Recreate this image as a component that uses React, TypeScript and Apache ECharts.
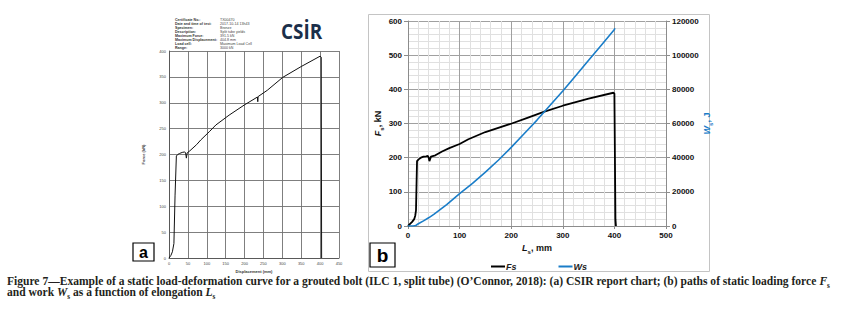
import React, { useEffect, useRef } from "react";
import * as echarts from "echarts";

// ---- Panel (a): CSIR report chart ----
const aDisp = [0, 5, 9, 13, 16, 19.5, 23, 28, 35, 41.5, 44, 46, 48, 55, 73, 84, 108, 124, 159, 200, 234, 235, 236, 260, 301, 350, 400, 403, 404];
const aForce = [0, 5, 12, 28, 120, 197, 200, 202, 204, 205, 203, 193, 203, 207, 219, 228, 245, 257, 276, 296, 311, 302, 312, 324, 349, 370, 390, 388, 0];
const aXTicks = [0, 50, 100, 150, 200, 250, 300, 350, 400, 450];
const aYTicks = [0, 50, 100, 150, 200, 250, 300, 350, 400];
const headerLabels = ["Certificate No.:", "Date and time of test:", "Specimen:", "Description:", "Maximum Force:", "Maximum Displacement:", "Load cell:", "Range:"];
const headerValues = ["TX00470", "2017-10-14 13h43", "Bronze", "Split tube yields", "391.5 kN", "404.8 mm", "Maximum Load Cell", "3000 kN"];

// ---- Panel (b): Fs and Ws vs Ls ----
const bDisp = [0, 4, 8, 12, 14, 15.5, 16.5, 17.5, 20.5, 25, 30, 35, 38.7, 40, 41.5, 43, 44.5, 53, 66, 80, 100, 117, 150, 201, 230, 263, 300, 350, 398, 400, 402, 403];
const bForce = [0, 6, 12, 20, 30, 46, 120, 190, 195, 200, 203, 204, 205, 200, 190, 196, 203, 207, 218, 228, 240, 254, 275, 300, 316, 334, 352, 373, 390, 388, 20, 0];
const wDisp = [0, 10, 15, 20, 30, 40, 50, 75, 100, 125, 150, 175, 200, 225, 250, 275, 300, 325, 350, 375, 400, 401];
const wWork = [0, 0, 300, 1300, 3000, 4800, 6800, 12500, 19000, 25000, 31500, 38500, 46000, 54000, 62000, 70500, 79000, 88000, 97000, 106000, 115000, 115800];

const caption1 = "Figure 7\u2014Example of a static load-deformation curve for a grouted bolt (ILC 1, split tube) (O\u2019Connor, 2018): (a) CSIR report chart; (b) paths of static loading force ";
const caption2a = "and work ";
const caption2b = " as a function of elongation ";

const BLUE = "#1a7dc8";

const zip = (xs: number[], ys: number[]) => xs.map((x, i) => [x, ys[i]]);

export default function App() {
  const ref = useRef<HTMLDivElement>(null);
  useEffect(() => {
    document.body.style.margin = "0";
    const chart = echarts.init(ref.current!, null, { renderer: "svg" });
    const sub = { fontSize: 7.2, fontWeight: "bold", fontFamily: "Liberation Serif", verticalAlign: "bottom", padding: [0, 0, -2, 0] };
    const capStyle = { fontSize: 11.55, fontWeight: "bold", fontFamily: "Liberation Serif", color: "#231f20" };
    const axRich = (size: number, color: string) => ({
      i: { fontStyle: "italic", fontWeight: "bold", fontSize: size, color, fontFamily: "Liberation Sans" },
      s: { fontWeight: "bold", fontSize: size - 3, color, fontFamily: "Liberation Sans", verticalAlign: "bottom", padding: [0, 0, -2, 0] },
      n: { fontWeight: "bold", fontSize: size, color, fontFamily: "Liberation Sans" },
    });
    const tinyLabel = { fontSize: 4, color: "#444", fontFamily: "Liberation Sans" };
    const bLabel = { fontSize: 8, color: "#111", fontWeight: "bold", fontFamily: "Liberation Sans" };

    const graphic: any[] = [
      { type: "rect", shape: { x: 368.5, y: 14.5, width: 341, height: 257 }, style: { fill: "none", stroke: "#c4c4c4", lineWidth: 1 }, z: 0 },
      // label boxes
      { type: "rect", shape: { x: 133, y: 243, width: 21, height: 18 }, style: { fill: "#fff", stroke: "#000", lineWidth: 1.2 }, z: 10 },
      { type: "text", x: 143.5, y: 252.5, style: { text: "a", fontSize: 16, fontWeight: "bold", fontFamily: "Liberation Sans", fill: "#000", align: "center", verticalAlign: "middle" }, z: 11 },
      { type: "rect", shape: { x: 370, y: 243, width: 25, height: 24 }, style: { fill: "#fff", stroke: "#000", lineWidth: 1.2 }, z: 10 },
      { type: "text", x: 382.5, y: 255, style: { text: "b", fontSize: 19, fontWeight: "bold", fontFamily: "Liberation Sans", fill: "#000", align: "center", verticalAlign: "middle" }, z: 11 },
      // CSIR logo
      { type: "text", x: 281, y: 31, scaleX: 0.9, style: { text: "CS\u0130R", fontSize: 21, fontWeight: 700, fontFamily: "Open Sans", fill: "#1b2f4a", verticalAlign: "middle", align: "left" }, z: 5 },
      // caption
      {
        type: "text", x: 7, y: 281,
        style: {
          text: caption1 + "{i|F}{s|s}", verticalAlign: "middle", ...capStyle, fill: "#231f20",
          rich: { i: { ...capStyle, fontStyle: "italic" }, s: sub },
        },
      },
      {
        type: "text", x: 7, y: 292,
        style: {
          text: caption2a + "{i|W}{s|s}" + caption2b + "{i|L}{s|s}", verticalAlign: "middle", ...capStyle, fill: "#231f20",
          rich: { i: { ...capStyle, fontStyle: "italic" }, s: sub },
        },
      },
    ];
    headerLabels.forEach((t, i) => {
      graphic.push({ type: "text", x: 175, y: 20 + i * 4, style: { text: t, fontSize: 3.6, fontWeight: "bold", fontFamily: "Liberation Sans", fill: "#333", verticalAlign: "middle" } });
      graphic.push({ type: "text", x: 220, y: 20 + i * 4, style: { text: headerValues[i], fontSize: 3.6, fontFamily: "Liberation Sans", fill: "#444", verticalAlign: "middle" } });
    });

    chart.setOption({
      animation: false,
      backgroundColor: "#fff",
      grid: [
        { left: 169, top: 51, width: 170, height: 207, containLabel: false },
        { left: 408, top: 21, width: 258, height: 205, containLabel: false },
      ],
      legend: {
        data: ["Fs", "Ws"], left: 486, top: 257, itemWidth: 14, itemHeight: 2, itemGap: 42, icon: "rect",
        textStyle: { fontSize: 9, fontStyle: "italic", fontWeight: "bold", color: "#222", fontFamily: "Liberation Sans", padding: [0, 0, 0, -4] },
      },
      xAxis: [
        {
          gridIndex: 0, type: "value", min: aXTicks[0], max: aXTicks[aXTicks.length - 1], interval: 50,
          name: "Displacement (mm)", nameLocation: "middle", nameGap: 9, nameTextStyle: { fontSize: 4, color: "#333", fontWeight: "bold" },
          axisLine: { lineStyle: { color: "#555", width: 0.9 } }, axisTick: { show: false },
          axisLabel: { ...tinyLabel, margin: 3 },
          splitLine: { show: true, lineStyle: { color: "#707070", width: 0.9 } },
        },
        {
          gridIndex: 1, type: "value", min: 0, max: 500, interval: 100,
          name: "{i|L}{s|s}{n|, mm}", nameLocation: "middle", nameGap: 15, nameTextStyle: { rich: axRich(9, "#111") },
          axisLine: { lineStyle: { color: "#8c8c8c" } }, axisTick: { show: true, length: 3, lineStyle: { color: "#8c8c8c" } },
          axisLabel: { ...bLabel, margin: 5 },
          splitLine: { show: true, lineStyle: { color: "#a0a0a0", width: 1 } },
          minorTick: { show: false, splitNumber: 5 },
          minorSplitLine: { show: true, lineStyle: { color: "#e0e0e0", width: 1 } },
        },
      ],
      yAxis: [
        {
          gridIndex: 0, type: "value", min: aYTicks[0], max: aYTicks[aYTicks.length - 1], interval: 50,
          name: "Force (kN)", nameLocation: "middle", nameGap: 24, nameTextStyle: { fontSize: 4, color: "#333", fontWeight: "bold" },
          axisLine: { show: true, lineStyle: { color: "#555", width: 0.9 } }, axisTick: { show: false },
          axisLabel: { ...tinyLabel, margin: 3 },
          splitLine: { show: true, lineStyle: { color: "#707070", width: 0.9 } },
        },
        {
          gridIndex: 1, type: "value", min: 0, max: 600, interval: 100, position: "left",
          name: "{i|F}{s|s}{n|, kN}", nameLocation: "middle", nameGap: 24, nameRotate: 90, nameTextStyle: { rich: axRich(9, "#111") },
          axisLine: { show: true, lineStyle: { color: "#8c8c8c" } }, axisTick: { show: true, length: 4, lineStyle: { color: "#8c8c8c" } },
          axisLabel: { ...bLabel, margin: 6 },
          splitLine: { show: true, lineStyle: { color: "#a0a0a0", width: 1 } },
          minorTick: { show: false, splitNumber: 5 },
          minorSplitLine: { show: true, lineStyle: { color: "#e0e0e0", width: 1 } },
        },
        {
          gridIndex: 1, type: "value", min: 0, max: 120000, interval: 20000, position: "right",
          name: "{i|W}{s|s}{n|, J}", nameLocation: "middle", nameGap: 34, nameRotate: 90, nameTextStyle: { rich: axRich(9, BLUE) },
          axisLine: { show: true, lineStyle: { color: "#8c8c8c" } }, axisTick: { show: true, length: 4, lineStyle: { color: "#8c8c8c" } },
          axisLabel: { ...bLabel, margin: 6, formatter: (v: number) => String(v) },
          splitLine: { show: false },
        },
      ],
      series: [
        {
          name: "CSIR", type: "line", xAxisIndex: 0, yAxisIndex: 0, data: zip(aDisp, aForce),
          showSymbol: false, lineStyle: { color: "#111", width: 1 }, itemStyle: { color: "#111" },
        },
        {
          name: "Fs", type: "line", xAxisIndex: 1, yAxisIndex: 1, data: zip(bDisp, bForce),
          showSymbol: false, lineStyle: { color: "#000", width: 1.8 }, itemStyle: { color: "#000" },
        },
        {
          name: "Ws", type: "line", xAxisIndex: 1, yAxisIndex: 2, data: zip(wDisp, wWork), smooth: false,
          showSymbol: false, lineStyle: { color: BLUE, width: 1.6 }, itemStyle: { color: BLUE },
        },
      ],
      graphic,
    });
    return () => chart.dispose();
  }, []);
  return <div ref={ref} style={{ width: 841, height: 316 }} />;
}
